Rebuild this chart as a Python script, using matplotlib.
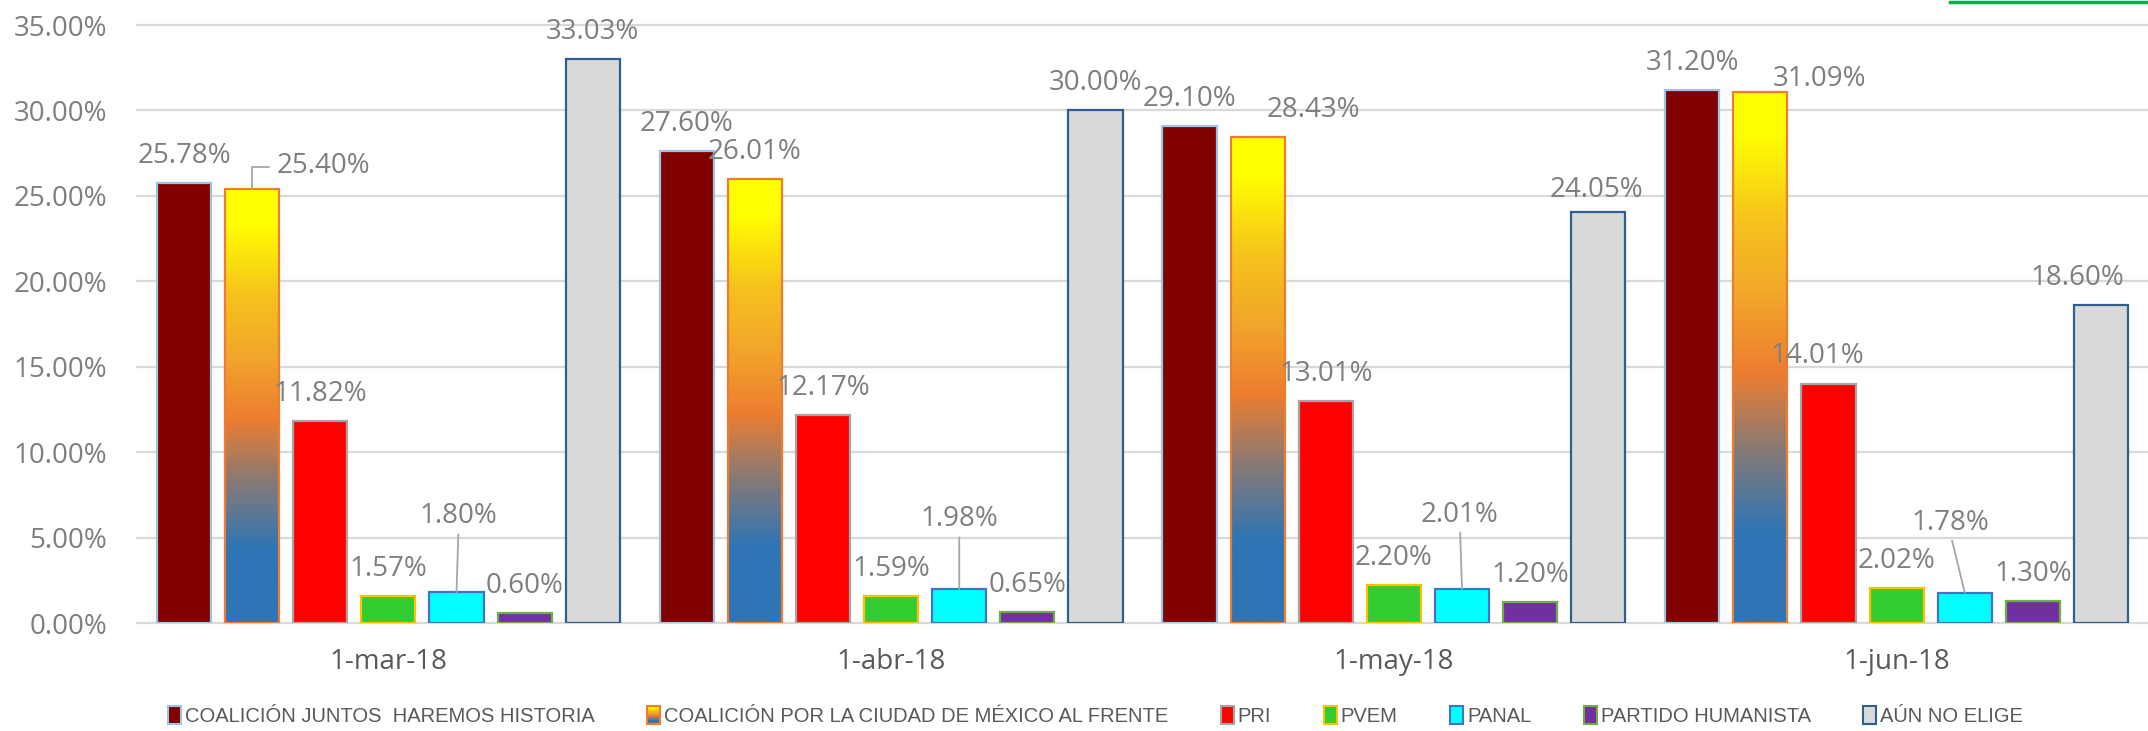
import numpy as np
import matplotlib
matplotlib.use("Agg")
import matplotlib.pyplot as plt
from matplotlib.colors import LinearSegmentedColormap
from matplotlib.patches import Rectangle, Patch
from matplotlib.legend_handler import HandlerBase
from matplotlib.lines import Line2D

# data (percent)
fechas = ["1-mar-18", "1-abr-18", "1-may-18", "1-jun-18"]
juntos = [25.78, 27.60, 29.10, 31.20]
por_cdmx = [25.40, 26.01, 28.43, 31.09]
pri = [11.82, 12.17, 13.01, 14.01]
pvem = [1.57, 1.59, 2.20, 2.02]
panal = [1.80, 1.98, 2.01, 1.78]
ph = [0.60, 0.65, 1.20, 1.30]
no_elige = [33.03, 30.00, 24.05, 18.60]

nombres = ["COALICIÓN JUNTOS  HAREMOS HISTORIA",
           "COALICIÓN POR LA CIUDAD DE MÉXICO AL FRENTE",
           "PRI", "PVEM", "PANAL", "PARTIDO HUMANISTA", "AÚN NO ELIGE"]
series = [juntos, por_cdmx, pri, pvem, panal, ph, no_elige]
caras = ["#800000", None, "#FF0000", "#33CC33", "#00FFFF", "#7030A0", "#D9D9D9"]
bordes = ["#9DC3E6", "#ED7D31", "#A5A5A5", "#FFC000", "#4472C4", "#70AD47", "#2F5F8F"]

fire = LinearSegmentedColormap.from_list("fire", [
    (0.0, "#2E75B6"), (0.17, "#2E75B6"), (0.33, "#8A7A74"), (0.47, "#ED7D31"),
    (0.62, "#F2A72A"), (0.76, "#F6C31C"), (0.92, "#FFFF00"), (1.0, "#FFFF00")])

# label offsets in pixels (dx, dy of label centre from bar top), leader flag
offsets = {(0, 1): (71, 26, "elbow"), (0, 4): (2, 79, "line"),
           (1, 4): (0, 73, "line"), (2, 1): (56, 30, None),
           (2, 4): (-2, 77, "line"), (2, 6): (-2, 25, None),
           (3, 1): (59, 16, None), (3, 2): (-11, 31, None),
           (3, 4): (-14, 73, "line"), (3, 6): (-24, 30, None)}

gray = "#7F7F7F"
fig = plt.figure(figsize=(21.48, 7.31), dpi=100)
ax = fig.add_axes([137 / 2148, 108 / 731, 2011 / 2148, 598 / 731])

pitch = 0.1355
width = 0.1076
x = np.arange(len(fechas))

for i, vals in enumerate(series):
    xs = x + (i - 3) * pitch
    if caras[i] is None:
        grad = np.linspace(0, 1, 256).reshape(-1, 1)
        for xx, v in zip(xs, vals):
            ax.imshow(grad, cmap=fire, origin="lower", aspect="auto",
                      extent=(xx - width / 2, xx + width / 2, 0, v), zorder=2.9)
        ax.bar(xs, vals, width, facecolor="none", edgecolor=bordes[i], linewidth=1.6, zorder=3)
    else:
        ax.bar(xs, vals, width, color=caras[i], edgecolor=bordes[i], linewidth=1.6, zorder=3)
    for g, (xx, v) in enumerate(zip(xs, vals)):
        dx, dy, kind = offsets.get((g, i), (0, 30, None))
        txt = f"{v:.2f}%"
        kw = dict(xy=(xx, v), xytext=(dx, dy - 10), textcoords="offset pixels",
                  ha="center", va="baseline", fontsize=20, color=gray,
                  family="Open Sans", zorder=5, annotation_clip=False)
        if kind == "line":
            kw["arrowprops"] = dict(arrowstyle="-", color="#A6A6A6", lw=1.3,
                                    shrinkA=1, shrinkB=0, relpos=(0.5, 0.05))
        elif kind == "elbow":
            kw["arrowprops"] = dict(arrowstyle="-", color="#A6A6A6", lw=1.3,
                                    shrinkA=3, shrinkB=0, relpos=(0, 0.45),
                                    connectionstyle="angle,angleA=0,angleB=90,rad=0")
        ax.annotate(txt, **kw)

ax.set_xlim(-0.5, 3.5)
ax.set_ylim(0, 35)
ax.set_yticks(np.arange(0, 36, 5))
ax.set_yticklabels([f"{t:.2f}%" for t in np.arange(0, 36, 5)])
ax.set_xticks(x)
ax.set_xticklabels(fechas)
ax.tick_params(axis="y", length=0, pad=21.5, labelsize=20, labelcolor=gray)
ax.tick_params(axis="x", length=0, pad=18, labelsize=20, labelcolor="#595959")
for lab in ax.get_xticklabels() + ax.get_yticklabels():
    lab.set_family("Open Sans")
ax.grid(axis="y", color="#D9D9D9", linewidth=1.6, zorder=0)
ax.set_axisbelow(True)
for gl in ax.get_ygridlines():
    gl.set_clip_on(False)
for s in ax.spines.values():
    s.set_visible(False)


class GradientHandler(HandlerBase):
    def create_artists(self, legend, orig_handle, xdescent, ydescent, w, h, fontsize, trans):
        arts = []
        n = 24
        for k in range(n):
            arts.append(Rectangle((-xdescent, -ydescent + h * k / n), w, h / n * 1.05,
                                  facecolor=fire(k / (n - 1)), edgecolor="none", transform=trans))
        arts.append(Rectangle((-xdescent, -ydescent), w, h, facecolor="none",
                              edgecolor=orig_handle.get_edgecolor(), lw=1.5, transform=trans))
        return arts


handles = []
for i in range(len(series)):
    handles.append(Patch(facecolor=caras[i] if caras[i] else "none",
                         edgecolor=bordes[i], linewidth=1.5))
leg = fig.legend(handles, nombres, loc="center", bbox_to_anchor=(0.51, 12 / 731 + 0.004),
                 ncol=7, frameon=False, handlelength=0.65, handleheight=1.0,
                 handletextpad=0.2, columnspacing=2.6,
                 handler_map={handles[1]: GradientHandler()},
                 prop={"family": "Liberation Sans", "size": 14.5})
for t in leg.get_texts():
    t.set_color("#595959")

fig.add_artist(Line2D([1950 / 2148, 1.0], [729.5 / 731, 729.5 / 731], color="#00B050", lw=2.5))

fig.savefig("out.png", dpi=100)
